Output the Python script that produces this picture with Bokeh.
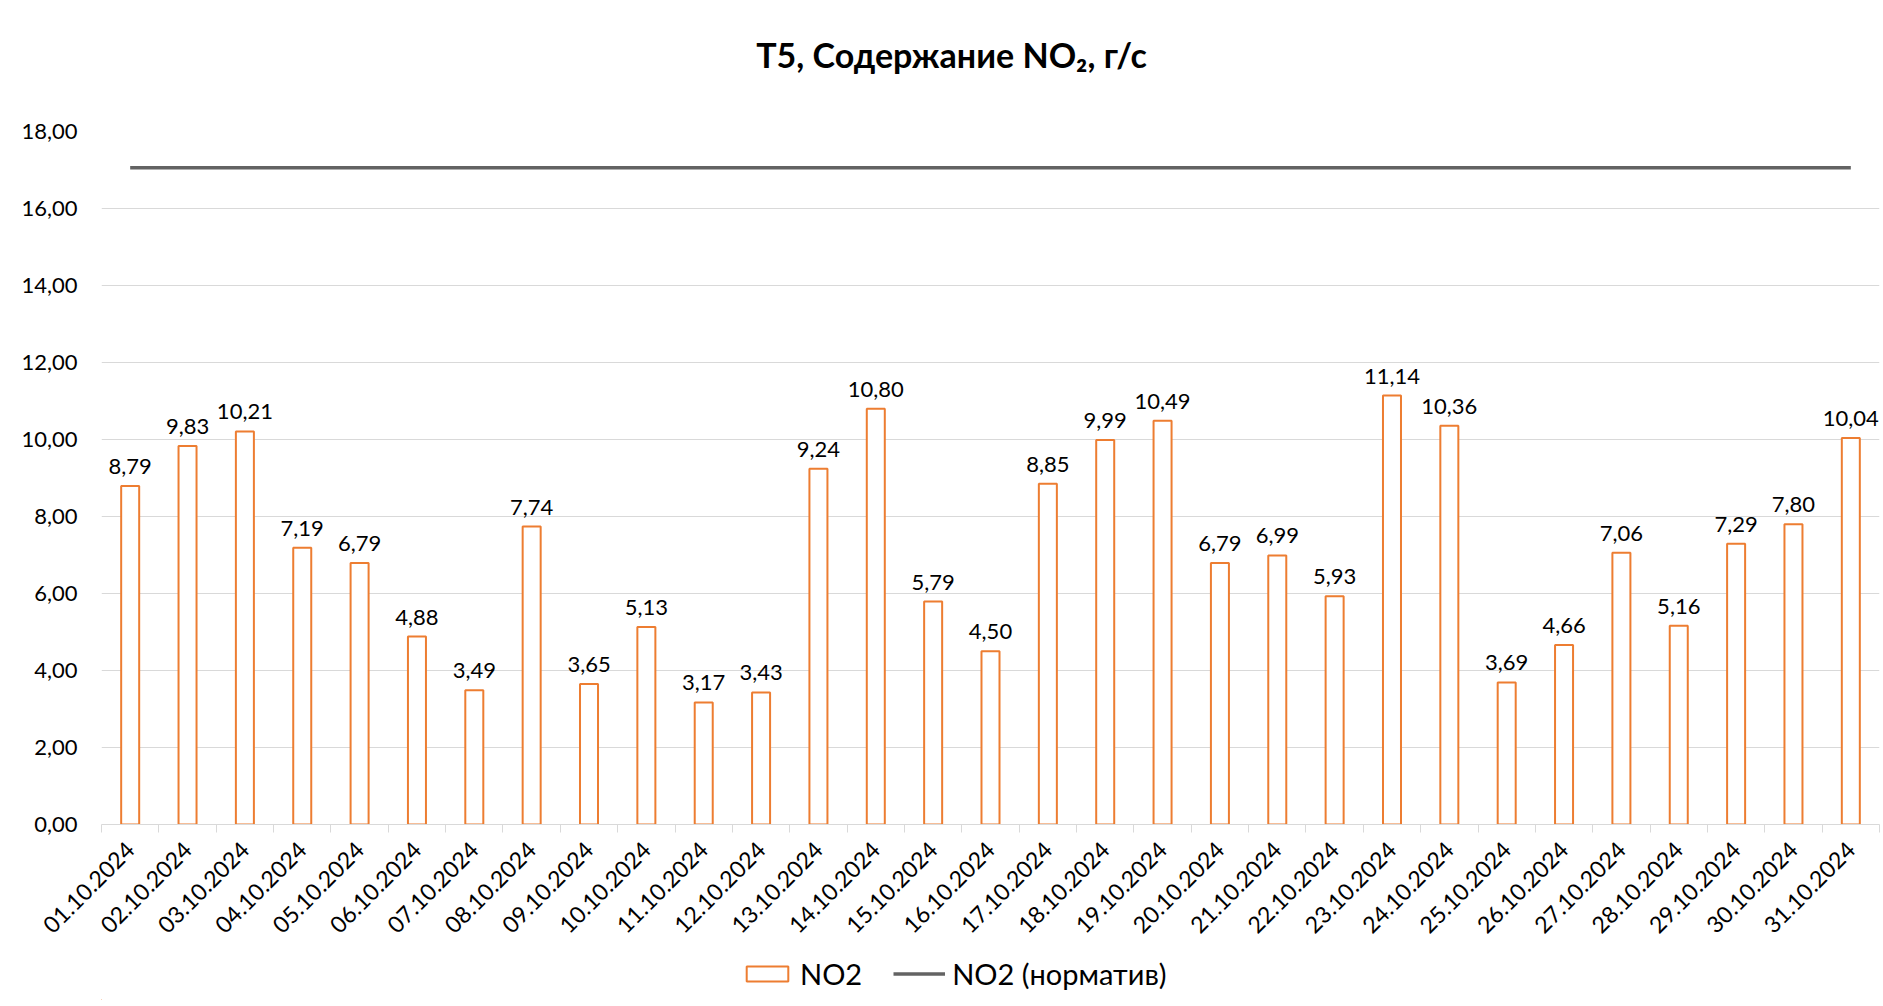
from bokeh.plotting import figure
from bokeh.layouts import column
from bokeh.models import (Range1d, FixedTicker, Legend, LegendItem, ColumnDataSource)
from bokeh.embed import file_html
from bokeh.resources import INLINE
from bokeh.core.properties import value

# ---- data ----
dates = ["01.10.2024", "02.10.2024", "03.10.2024", "04.10.2024", "05.10.2024",
         "06.10.2024", "07.10.2024", "08.10.2024", "09.10.2024", "10.10.2024",
         "11.10.2024", "12.10.2024", "13.10.2024", "14.10.2024", "15.10.2024",
         "16.10.2024", "17.10.2024", "18.10.2024", "19.10.2024", "20.10.2024",
         "21.10.2024", "22.10.2024", "23.10.2024", "24.10.2024", "25.10.2024",
         "26.10.2024", "27.10.2024", "28.10.2024", "29.10.2024", "30.10.2024",
         "31.10.2024"]
no2 = [8.79, 9.83, 10.21, 7.19, 6.79, 4.88, 3.49, 7.74, 3.65, 5.13,
       3.17, 3.43, 9.24, 10.80, 5.79, 4.50, 8.85, 9.99, 10.49, 6.79,
       6.99, 5.93, 11.14, 10.36, 3.69, 4.66, 7.06, 5.16, 7.29, 7.80,
       10.04]
no2_norm = [17.06] * 31
y_ticks = [0, 2, 4, 6, 8, 10, 12, 14, 16, 18]
y_tick_labels = ["0,00", "2,00", "4,00", "6,00", "8,00", "10,00", "12,00",
                 "14,00", "16,00", "18,00"]
title_text = "Т5, Содержание NO₂, г/с"
series_names = ["NO2", "NO2 (норматив)"]

FONT = "Lato"
BAR_COLOR = "#ED7D31"
LINE_COLOR = "#636363"
n = len(dates)
centers = [i + 0.5 for i in range(n)]
bounds = [i for i in range(n + 1)]
labels = [f"{v:.2f}".replace(".", ",") for v in no2]

W = 1882


def strip(height):
    f = figure(width=W, height=height, output_backend="svg", toolbar_location=None,
               x_axis_type=None, y_axis_type=None, min_border=0,
               x_range=Range1d(0, 1), y_range=Range1d(0, 1))
    f.outline_line_color = None
    f.xgrid.grid_line_color = None
    f.ygrid.grid_line_color = None
    return f


# ---- title strip (its frame is aligned with the chart's frame) ----
t = strip(100)
t.text(x=[0.5], y=[0.46], text=[title_text], text_align="center",
       text_baseline="middle", x_offset=-39, text_font=value(FONT),
       text_font_style="bold", text_font_size="34px", text_color="#000000")

# ---- main chart ----
src = ColumnDataSource(dict(x=centers, top=no2, lab=labels, norm=no2_norm))

p = figure(width=W, height=855, output_backend="svg", toolbar_location=None,
           x_range=Range1d(0, n), y_range=Range1d(0, 18),
           min_border_left=101, min_border_right=3, min_border_top=31,
           min_border_bottom=131)
p.outline_line_color = None
p.background_fill_color = "white"
p.border_fill_color = "white"

bars = p.vbar(x="x", top="top", width=0.314, bottom=0, source=src,
              fill_color="white", line_color=BAR_COLOR, line_width=2)
line = p.line(x="x", y="norm", source=src, line_color=LINE_COLOR, line_width=3.5)
p.text(x="x", y="top", text="lab", source=src, text_align="center",
       text_baseline="bottom", y_offset=-12, text_font=value(FONT),
       text_font_size="22px", text_color="#000000")

xa = p.xaxis[0]
xa.ticker = FixedTicker(ticks=centers, minor_ticks=bounds)
xa.major_label_overrides = {c: d for c, d in zip(centers, dates)}
xa.major_label_orientation = 0.785398
xa.major_tick_line_color = None
xa.minor_tick_line_color = "#D9D9D9"
xa.minor_tick_in = 0
xa.minor_tick_out = 8
xa.axis_line_color = "#D9D9D9"
xa.major_label_text_font = FONT
xa.major_label_text_font_size = "23px"
xa.major_label_text_color = "#000000"
xa.major_label_standoff = 13

ya = p.yaxis[0]
ya.ticker = FixedTicker(ticks=y_ticks)
ya.major_label_overrides = {tk: lb for tk, lb in zip(y_ticks, y_tick_labels)}
ya.axis_line_color = None
ya.major_tick_line_color = None
ya.minor_tick_line_color = None
ya.major_tick_out = 0
ya.major_label_standoff = 24
ya.major_label_text_font = FONT
ya.major_label_text_font_size = "22px"
ya.major_label_text_color = "#000000"

p.xgrid.grid_line_color = None
p.ygrid.grid_line_color = "#D9D9D9"
p.ygrid.grid_line_width = 1

# ---- legend strip below the chart ----
lg = strip(45)
# renderers only serve as legend keys; their points lie outside the visible range
keysrc = ColumnDataSource(dict(x=[-5.0, -4.0], top=[-5.0, -5.0], y=[-5.0, -5.0]))
lbars = lg.vbar(x="x", top="top", bottom=-6, width=0.3, source=keysrc,
                fill_color="white", line_color=BAR_COLOR, line_width=2)
lline = lg.line(x="x", y="y", source=keysrc, line_color=LINE_COLOR, line_width=3.5)
legend = Legend(items=[LegendItem(label=series_names[0], renderers=[lbars]),
                       LegendItem(label=series_names[1], renderers=[lline])],
                orientation="horizontal", location=(640, 9),
                label_text_font=FONT, label_text_font_size="29px",
                label_text_color="#000000", glyph_width=52, glyph_height=19,
                label_standoff=7, spacing=31, padding=0, margin=0,
                border_line_color=None, background_fill_alpha=0)
lg.add_layout(legend, "center")

layout = column(t, p, lg, spacing=0)
open("out.html", "w").write(file_html(layout, INLINE))
